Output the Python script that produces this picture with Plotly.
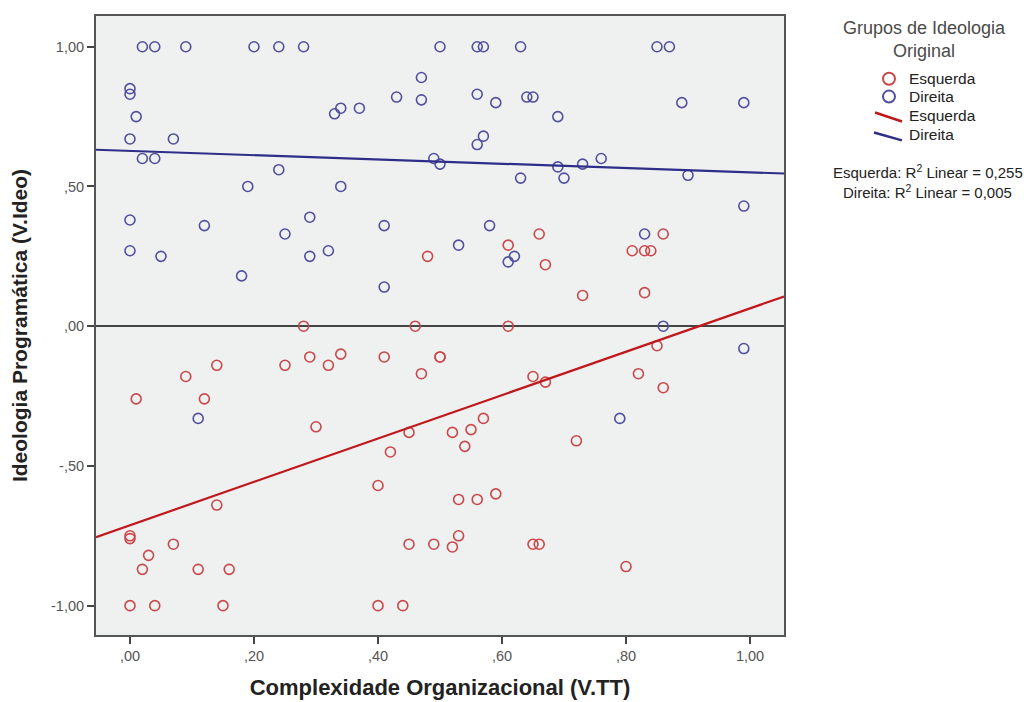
import numpy as np
import plotly.graph_objects as go

# Esquerda (left) group
esq_x = [0.28, 0.46, 0.48, 0.61, 0.61, 0.66, 0.67, 0.73, 0.81, 0.83, 0.84, 0.86, 0.83,
         0.01, 0.09, 0.14, 0.12, 0.25, 0.29, 0.32, 0.34, 0.41, 0.47, 0.50, 0.50,
         0.30, 0.45, 0.42, 0.40, 0.14, 0.00, 0.00, 0.07, 0.03, 0.02, 0.11, 0.16,
         0.45, 0.49, 0.00, 0.04, 0.15, 0.40, 0.44,
         0.65, 0.67, 0.85, 0.82, 0.86, 0.57, 0.52, 0.55, 0.54, 0.72,
         0.53, 0.56, 0.59, 0.53, 0.52, 0.65, 0.66, 0.80]
esq_y = [0.00, 0.00, 0.25, 0.00, 0.29, 0.33, 0.22, 0.11, 0.27, 0.27, 0.27, 0.33, 0.12,
         -0.26, -0.18, -0.14, -0.26, -0.14, -0.11, -0.14, -0.10, -0.11, -0.17, -0.11, -0.11,
         -0.36, -0.38, -0.45, -0.57, -0.64, -0.75, -0.76, -0.78, -0.82, -0.87, -0.87, -0.87,
         -0.78, -0.78, -1.00, -1.00, -1.00, -1.00, -1.00,
         -0.18, -0.20, -0.07, -0.17, -0.22, -0.33, -0.38, -0.37, -0.43, -0.41,
         -0.62, -0.62, -0.60, -0.75, -0.79, -0.78, -0.78, -0.86]

# Direita (right) group
dir_x = [0.02, 0.04, 0.09, 0.20, 0.24, 0.28, 0.50, 0.56, 0.57, 0.63, 0.85, 0.87,
         0.00, 0.00, 0.01, 0.00, 0.07, 0.02, 0.04, 0.24, 0.19, 0.34, 0.00, 0.12,
         0.29, 0.25, 0.41, 0.00, 0.05, 0.29, 0.32, 0.18, 0.41, 0.33, 0.34, 0.37,
         0.43, 0.47, 0.47, 0.49, 0.50,
         0.56, 0.59, 0.64, 0.65, 0.69, 0.56, 0.57, 0.69, 0.63, 0.70, 0.73, 0.76,
         0.90, 0.89, 0.99, 0.99, 0.58, 0.53, 0.61, 0.62, 0.83, 0.86, 0.99, 0.79, 0.11]
dir_y = [1.00, 1.00, 1.00, 1.00, 1.00, 1.00, 1.00, 1.00, 1.00, 1.00, 1.00, 1.00,
         0.85, 0.83, 0.75, 0.67, 0.67, 0.60, 0.60, 0.56, 0.50, 0.50, 0.38, 0.36,
         0.39, 0.33, 0.36, 0.27, 0.25, 0.25, 0.27, 0.18, 0.14, 0.76, 0.78, 0.78,
         0.82, 0.89, 0.81, 0.60, 0.58,
         0.83, 0.80, 0.82, 0.82, 0.75, 0.65, 0.68, 0.57, 0.53, 0.53, 0.58, 0.60,
         0.54, 0.80, 0.80, 0.43, 0.36, 0.29, 0.23, 0.25, 0.33, 0.00, -0.08, -0.33, -0.33]

group_names = ["Esquerda", "Direita"]
x_tickvals = [0.0, 0.2, 0.4, 0.6, 0.8, 1.0]
x_ticktext = [",00", ",20", ",40", ",60", ",80", "1,00"]
y_tickvals = [1.0, 0.5, 0.0, -0.5, -1.0]
y_ticktext = ["1,00", ",50", ",00", "-,50", "-1,00"]

legend_title = "Grupos de Ideologia<br>Original"
r2_labels = ["Esquerda: R<sup>2</sup> Linear = 0,255", "Direita: R<sup>2</sup> Linear = 0,005"]

x_range = [-0.0548, 1.0548]
y_range = [-1.105, 1.110]

RED_M = "#c9484b"
BLUE_M = "#50509f"
RED_L = "#c0181c"
BLUE_L = "#2e2e88"
FONT = "Liberation Sans, Arial, sans-serif"

fig = go.Figure()

fig.add_trace(go.Scatter(x=esq_x, y=esq_y, mode="markers", name=group_names[0],
                         marker=dict(symbol="circle-open", size=10, color=RED_M,
                                     line=dict(width=1.6, color=RED_M))))
fig.add_trace(go.Scatter(x=dir_x, y=dir_y, mode="markers", name=group_names[1],
                         marker=dict(symbol="circle-open", size=10, color=BLUE_M,
                                     line=dict(width=1.6, color=BLUE_M))))

xs = np.array(x_range)
for gx, gy, nm, col in [(esq_x, esq_y, group_names[0], RED_L), (dir_x, dir_y, group_names[1], BLUE_L)]:
    b, a = np.polyfit(gx, gy, 1)
    fig.add_trace(go.Scatter(x=xs, y=a + b * xs, mode="lines", name=nm,
                             line=dict(color=col, width=2.2)))

fig.update_layout(
    width=1025, height=694,
    margin=dict(l=88, r=249, t=6, b=66),
    paper_bgcolor="white",
    plot_bgcolor="#eff1f0",
    font=dict(family=FONT, color="#333333", size=15),
    showlegend=False,
)

fig.update_xaxes(range=x_range, tickvals=x_tickvals, ticktext=x_ticktext,
                 ticks="outside", ticklen=7, tickcolor="#444444", tickwidth=2,
                 showgrid=False, zeroline=False,
                 showline=True, linecolor="#555555", linewidth=2, mirror=True,
                 tickfont=dict(size=14.5, color="#555555", family=FONT),
                 title=dict(text="<b>Complexidade Organizacional (V.TT)</b>",
                            font=dict(size=22, color="#222222", family=FONT), standoff=16))
fig.update_yaxes(range=y_range, tickvals=y_tickvals, ticktext=y_ticktext,
                 ticks="outside", ticklen=7, tickcolor="#444444", tickwidth=2,
                 showgrid=False, zeroline=True, zerolinecolor="#444444", zerolinewidth=1.5,
                 showline=True, linecolor="#555555", linewidth=2, mirror=True,
                 tickfont=dict(size=14.5, color="#555555", family=FONT),
                 title=dict(text="<b>Ideologia Programática (V.Ideo)</b>",
                            font=dict(size=21, color="#222222", family=FONT), standoff=20))

# Legend drawn in paper coordinates (to reproduce centered title and diagonal line glyphs)
fig.add_annotation(text=legend_title, xref="paper", yref="paper", x=1.2035, y=0.962,
                   xanchor="center", yanchor="middle", showarrow=False, align="center",
                   font=dict(size=18, color="#4a4a4a", family=FONT))

rx, ry = 6 / 688, 6 / 622
for yc, col in [(0.8987, RED_M), (0.8698, BLUE_M)]:
    fig.add_shape(type="circle", xref="paper", yref="paper",
                  x0=1.1526 - rx, x1=1.1526 + rx, y0=yc - ry, y1=yc + ry,
                  line=dict(color=col, width=2), fillcolor="rgba(0,0,0,0)")
for (x0, y0, x1, y1), col in [((1.1323, 0.8441, 1.1715, 0.8296), RED_L),
                               ((1.1308, 0.8119, 1.1715, 0.7990), BLUE_L)]:
    fig.add_shape(type="line", xref="paper", yref="paper", x0=x0, y0=y0, x1=x1, y1=y1,
                  line=dict(color=col, width=2.5))

for nm, yc in zip(group_names + group_names, [0.8987, 0.8698, 0.8392, 0.8087]):
    fig.add_annotation(text=nm, xref="paper", yref="paper", x=1.1788, y=yc,
                       xanchor="left", yanchor="middle", showarrow=False,
                       font=dict(size=15.5, color="#222222", family=FONT))

for t, yc in zip(r2_labels, [0.749, 0.7165]):
    fig.add_annotation(text=t, xref="paper", yref="paper", x=1.2093, y=yc,
                       xanchor="center", yanchor="middle", showarrow=False,
                       font=dict(size=15, color="#222222", family=FONT))

fig.write_html("out.html")
